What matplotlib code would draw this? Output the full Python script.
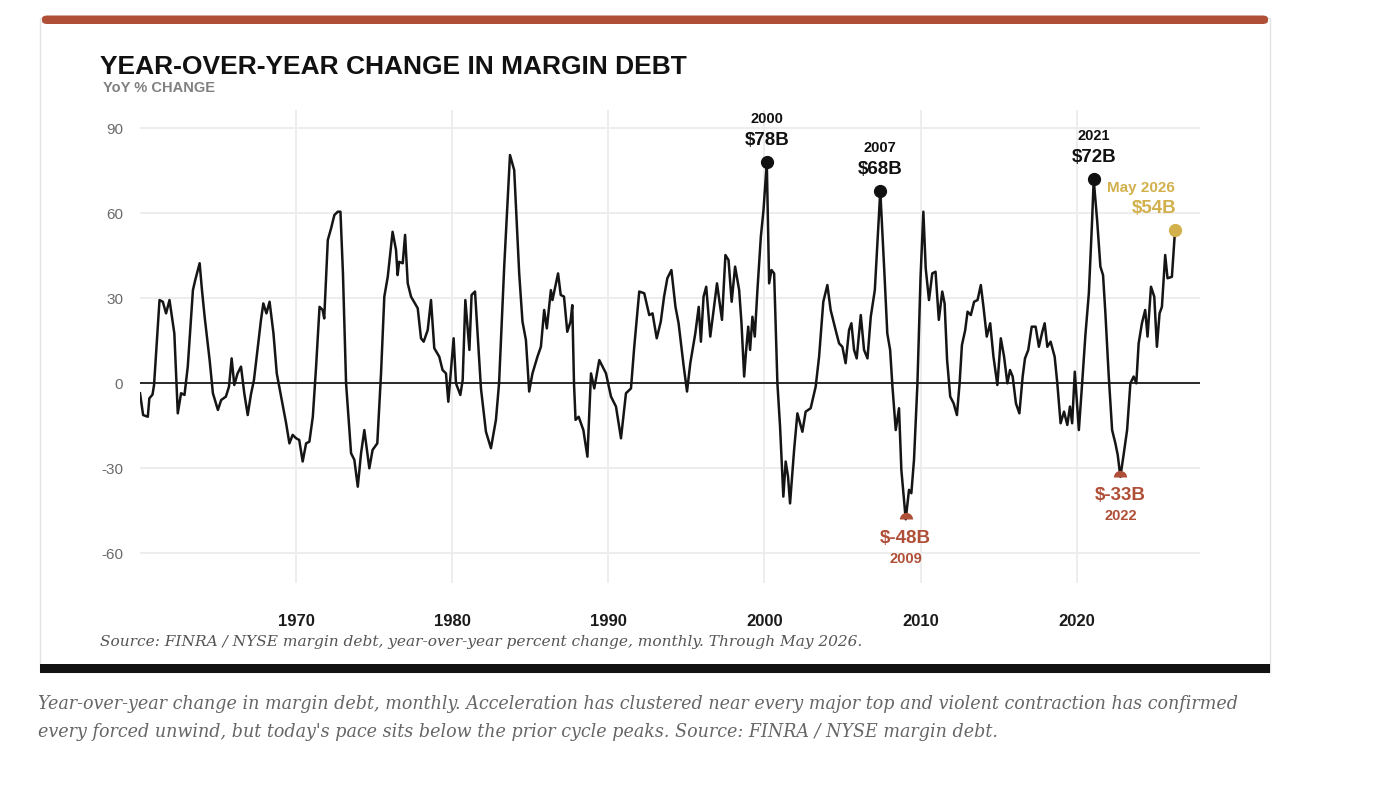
import matplotlib
matplotlib.use("Agg")
import matplotlib.pyplot as plt
from matplotlib.patches import Rectangle, FancyBboxPatch

# ---------------- data ----------------
years = [
    1960.0, 1960.2, 1960.5, 1960.6, 1960.8, 1960.9, 1961.25, 1961.46, 1961.67, 1961.89,
    1962.2, 1962.42, 1962.63, 1962.85, 1963.06, 1963.39, 1963.54, 1963.82, 1963.97, 1964.14,
    1964.46, 1964.67, 1964.99, 1965.2, 1965.5, 1965.7, 1965.87, 1966.04, 1966.25, 1966.47,
    1966.68, 1966.9, 1967.1, 1967.3, 1967.5, 1967.75, 1967.9, 1968.1, 1968.3, 1968.55,
    1968.76, 1969.0, 1969.36, 1969.57, 1969.78, 1970.0, 1970.2, 1970.42, 1970.64, 1970.85,
    1971.07, 1971.28, 1971.5, 1971.7, 1971.8, 1972.03, 1972.24, 1972.45, 1972.67, 1972.84,
    1973.0, 1973.2, 1973.52, 1973.73, 1973.95, 1974.16, 1974.37, 1974.69, 1974.9, 1975.2,
    1975.44, 1975.65, 1975.87, 1976.18, 1976.4, 1976.5, 1976.6, 1976.83, 1976.98, 1977.15,
    1977.36, 1977.79, 1978.0, 1978.17, 1978.43, 1978.64, 1978.85, 1979.17, 1979.38, 1979.6,
    1979.75, 1980.09, 1980.24, 1980.52, 1980.67, 1980.84, 1981.1, 1981.24, 1981.46, 1981.84,
    1982.16, 1982.48, 1982.8, 1983.0, 1983.33, 1983.7, 1983.97, 1984.29, 1984.5, 1984.72,
    1984.93, 1985.14, 1985.46, 1985.68, 1985.89, 1986.06, 1986.32, 1986.42, 1986.78, 1986.95,
    1987.16, 1987.37, 1987.58, 1987.69, 1987.8, 1987.9, 1988.1, 1988.4, 1988.66, 1988.89,
    1989.1, 1989.42, 1989.85, 1990.17, 1990.49, 1990.81, 1991.13, 1991.45, 1991.66, 1991.98,
    1992.3, 1992.62, 1992.83, 1993.1, 1993.36, 1993.57, 1993.78, 1994.04, 1994.3, 1994.5,
    1994.83, 1995.04, 1995.25, 1995.57, 1995.79, 1995.93, 1996.1, 1996.27, 1996.53, 1996.96,
    1997.28, 1997.5, 1997.7, 1997.9, 1998.12, 1998.38, 1998.53, 1998.7, 1998.81, 1998.96,
    1999.08, 1999.23, 1999.38, 1999.55, 1999.77, 1999.94, 2000.15, 2000.3, 2000.45, 2000.62,
    2000.83, 2001.0, 2001.21, 2001.36, 2001.51, 2001.64, 2001.9, 2002.11, 2002.43, 2002.64,
    2002.96, 2003.28, 2003.5, 2003.77, 2004.03, 2004.24, 2004.56, 2004.78, 2004.99, 2005.2,
    2005.42, 2005.57, 2005.74, 2005.91, 2006.17, 2006.38, 2006.6, 2006.81, 2007.07, 2007.42,
    2007.68, 2007.87, 2008.05, 2008.2, 2008.41, 2008.62, 2008.77, 2009.05, 2009.26, 2009.41,
    2009.58, 2009.8, 2010.0, 2010.18, 2010.33, 2010.54, 2010.75, 2010.96, 2011.17, 2011.39,
    2011.54, 2011.7, 2011.9, 2012.12, 2012.33, 2012.5, 2012.65, 2012.86, 2013.01, 2013.22,
    2013.43, 2013.65, 2013.86, 2014.03, 2014.24, 2014.46, 2014.67, 2014.92, 2015.14, 2015.35,
    2015.56, 2015.73, 2015.9, 2016.11, 2016.33, 2016.54, 2016.69, 2016.9, 2017.12, 2017.37,
    2017.58, 2017.8, 2017.95, 2018.12, 2018.33, 2018.59, 2018.76, 2018.97, 2019.19, 2019.4,
    2019.57, 2019.71, 2019.88, 2020.14, 2020.35, 2020.56, 2020.78, 2020.99, 2021.09, 2021.31,
    2021.52, 2021.69, 2021.84, 2022.05, 2022.27, 2022.48, 2022.63, 2022.8, 2023.02, 2023.23,
    2023.44, 2023.65, 2023.82, 2023.97, 2024.18, 2024.39, 2024.54, 2024.76, 2024.97, 2025.14,
    2025.31, 2025.46, 2025.67, 2025.82, 2026.1, 2026.3,
]
yoy_pct = [
    -3.5, -11.2, -11.8, -5.3, -4.0, -0.6, 29.4, 28.8, 24.7, 29.4,
    17.6, -10.6, -3.5, -4.1, 5.9, 32.9, 36.5, 42.4, 32.9, 23.5,
    8.2, -3.5, -9.4, -5.9, -4.7, -1.2, 8.8, -0.6, 3.5, 5.9,
    -3.5, -11.2, -4.1, 1.2, 10.6, 22.4, 28.2, 24.7, 28.8, 17.6,
    3.5, -3.5, -14.1, -21.2, -18.2, -19.4, -20.0, -27.6, -21.2, -20.6,
    -11.8, 5.9, 27.0, 25.9, 22.9, 50.6, 54.7, 59.4, 60.6, 60.6,
    38.8, 0.0, -24.7, -27.0, -36.5, -24.7, -16.5, -30.0, -23.5, -21.2,
    3.5, 30.6, 37.6, 53.5, 47.1, 38.2, 42.9, 42.4, 52.4, 35.3,
    30.6, 26.5, 15.9, 14.7, 18.8, 29.4, 12.4, 9.4, 4.7, 3.5,
    -6.5, 15.9, 0.0, -4.1, 1.2, 29.4, 11.8, 31.2, 32.4, -1.8,
    -17.1, -22.9, -12.9, 0.0, 41.2, 80.6, 75.3, 38.8, 21.8, 15.3,
    -2.9, 3.5, 9.4, 12.9, 25.9, 19.4, 32.9, 29.4, 38.8, 31.2,
    30.6, 18.2, 21.8, 27.6, 0.0, -12.9, -11.8, -16.5, -25.9, 3.5,
    -1.8, 8.2, 3.5, -4.7, -8.2, -19.4, -3.5, -1.8, 12.9, 32.4,
    31.8, 24.1, 24.7, 15.9, 21.8, 30.6, 37.1, 40.0, 27.0, 21.2,
    5.9, -2.9, 7.1, 17.6, 27.0, 14.7, 30.6, 34.1, 16.5, 35.3,
    22.4, 45.3, 43.5, 28.8, 41.2, 32.9, 21.2, 2.4, 10.6, 20.0,
    11.8, 23.5, 16.5, 32.9, 51.8, 61.2, 78.0, 35.3, 40.0, 38.8,
    0.0, -15.3, -40.0, -27.6, -32.9, -42.4, -23.5, -10.6, -17.1, -10.0,
    -8.8, -1.2, 9.4, 28.8, 34.7, 25.9, 18.8, 14.1, 12.9, 7.1,
    18.8, 21.2, 11.8, 8.8, 24.1, 11.8, 8.8, 23.5, 32.9, 68.0,
    39.4, 17.6, 11.8, -1.2, -16.5, -8.8, -30.6, -48.0, -37.6, -38.8,
    -27.0, 0.0, 37.6, 60.6, 40.6, 29.4, 38.8, 39.4, 22.4, 32.4,
    28.2, 8.2, -4.7, -7.1, -11.2, 0.0, 13.5, 18.8, 25.3, 24.1,
    28.8, 29.4, 34.7, 27.0, 16.5, 21.2, 9.4, -0.6, 15.9, 9.4,
    0.0, 4.7, 2.4, -7.1, -10.6, 2.4, 8.8, 11.8, 20.0, 20.0,
    12.9, 18.2, 21.2, 12.9, 14.7, 9.4, 0.0, -14.1, -10.0, -14.7,
    -8.2, -14.1, 4.1, -16.5, 0.0, 17.1, 31.8, 57.6, 72.0, 57.6,
    41.2, 38.2, 24.7, 2.9, -16.5, -21.2, -25.3, -33.0, -24.7, -16.5,
    0.0, 2.4, 0.0, 14.1, 21.2, 25.9, 16.5, 34.1, 30.6, 12.9,
    24.7, 27.0, 45.3, 37.1, 37.6, 54.0,
]

y_ticks = [90, 60, 30, 0, -30, -60]
x_ticks = [1970, 1980, 1990, 2000, 2010, 2020]

peak_years = [2000.15, 2007.42, 2021.09]
peak_values = [78, 68, 72]
peak_labels = ["$78B", "$68B", "$72B"]
peak_years_txt = ["2000", "2007", "2021"]

trough_years = [2009.05, 2022.8]
trough_values = [-48, -33]
trough_labels = ["$-48B", "$-33B"]
trough_years_txt = ["2009", "2022"]

latest_year = 2026.3
latest_value = 54
latest_label = "$54B"
latest_date = "May 2026"

title = "YEAR-OVER-YEAR CHANGE IN MARGIN DEBT"
subtitle = "YoY % CHANGE"
source = "Source: FINRA / NYSE margin debt, year-over-year percent change, monthly. Through May 2026."
caption1 = ("Year-over-year change in margin debt, monthly. Acceleration has clustered near every "
            "major top and violent contraction has confirmed")
caption2 = ("every forced unwind, but today's pace sits below the prior cycle peaks. "
            "Source: FINRA / NYSE margin debt.")

# ---------------- styling ----------------
W, H = 1380, 806
RED = "#b04f38"
GOLD = "#d2b04c"
SANS = ["Liberation Sans", "DejaVu Sans"]
SERIF = ["DejaVu Serif"]

VAL_FS = 13.5
YR_FS = 10.5

fig = plt.figure(figsize=(W / 100, H / 100), dpi=100)
fig.patch.set_facecolor("white")


def fx(x):
    return x / W


def fy(y):
    return 1 - y / H


# card
card = Rectangle((fx(40), fy(672)), fx(1270) - fx(40), fy(18) - fy(672),
                 transform=fig.transFigure, facecolor="white",
                 edgecolor="#e2e2e2", lw=1.0, zorder=-2)
fig.patches.append(card)
topbar = FancyBboxPatch((fx(42), fy(24)), fx(1268) - fx(42), fy(15.5) - fy(24),
                        boxstyle="round,pad=0,rounding_size=0.004",
                        transform=fig.transFigure, facecolor=RED,
                        edgecolor="none", zorder=-1)
fig.patches.append(topbar)
botbar = Rectangle((fx(40), fy(673)), fx(1270) - fx(40), fy(664) - fy(673),
                   transform=fig.transFigure, facecolor="#121212",
                   edgecolor="none", zorder=-1)
fig.patches.append(botbar)

# axes
ax = fig.add_axes([fx(140), fy(583), fx(1200) - fx(140), fy(110) - fy(583)])
ax.set_zorder(5)
ax.set_facecolor("none")
ax.set_xlim(1960.0, 2027.9)
ax.set_ylim(-70.5, 96.5)
for s in ax.spines.values():
    s.set_visible(False)
ax.set_yticks(y_ticks)
ax.set_yticklabels([str(v) for v in y_ticks])
ax.set_xticks(x_ticks)
ax.set_xticklabels([str(v) for v in x_ticks])
ax.tick_params(axis="both", length=0)
ax.tick_params(axis="y", pad=12, labelsize=11, labelcolor="#6a6a6a")
ax.tick_params(axis="x", pad=22, labelsize=12, labelcolor="#1a1a1a")
for lab in ax.get_xticklabels():
    lab.set_fontweight("bold")
    lab.set_family(SANS)
for lab in ax.get_yticklabels():
    lab.set_family(SANS)
ax.grid(True, color="#ececec", lw=1.3)
ax.set_axisbelow(True)
ax.axhline(0, color="#1a1a1a", lw=1.3, zorder=2)

ax.plot(years, yoy_pct, color="#151515", lw=1.8, zorder=3,
        solid_joinstyle="round")

# peak markers and labels
ax.plot(peak_years, peak_values, "o", color="#111111", ms=8.5, zorder=4)
for x, v, lab, yr in zip(peak_years, peak_values, peak_labels, peak_years_txt):
    ax.annotate(lab, (x, v), xytext=(0, 15.5), textcoords="offset points",
                ha="center", va="center", fontsize=VAL_FS, fontweight="bold",
                color="#111111", family=SANS, zorder=5)
    ax.annotate(yr, (x, v), xytext=(0, 31), textcoords="offset points",
                ha="center", va="center", fontsize=YR_FS, fontweight="bold",
                color="#111111", family=SANS, zorder=5)

# trough markers and labels
ax.plot(trough_years, trough_values, "o", color=RED, ms=9.5, fillstyle="top",
        markerfacecoloralt="none", markeredgewidth=0, zorder=4)
for x, v, lab, yr in zip(trough_years, trough_values, trough_labels, trough_years_txt):
    ax.annotate(lab, (x, v), xytext=(0, -13.5), textcoords="offset points",
                ha="center", va="center", fontsize=VAL_FS, fontweight="bold",
                color=RED, family=SANS, zorder=5)
    ax.annotate(yr, (x, v), xytext=(0, -28.5), textcoords="offset points",
                ha="center", va="center", fontsize=YR_FS, fontweight="bold",
                color=RED, family=SANS, zorder=5)

# latest value
ax.plot([latest_year], [latest_value], "o", color=GOLD, ms=8.5, zorder=4)
ax.annotate(latest_label, (latest_year, latest_value), xytext=(1, 16),
            textcoords="offset points", ha="right", va="center",
            fontsize=VAL_FS, fontweight="bold", color=GOLD, family=SANS, zorder=5)
ax.annotate(latest_date, (latest_year, latest_value), xytext=(0, 30.5),
            textcoords="offset points", ha="right", va="center",
            fontsize=11, fontweight="bold", color=GOLD, family=SANS, zorder=5)

# titles
fig.text(fx(100), fy(74), title, ha="left", va="baseline", fontsize=19,
         fontweight="bold", color="#111111", family=SANS)
fig.text(fx(103), fy(92.5), subtitle, ha="left", va="baseline", fontsize=10.5,
         fontweight="bold", color="#808080", family=SANS)

# source and caption, fitted to the reference widths
renderer = fig.canvas.get_renderer()


def fit(txt, target_px):
    bb = txt.get_window_extent(renderer=renderer)
    txt.set_fontsize(txt.get_fontsize() * target_px / bb.width)


t_src = fig.text(fx(100), fy(646), source, ha="left", va="baseline",
                 fontsize=11, style="italic", color="#555555", family=SERIF)
fit(t_src, 765)
t_c1 = fig.text(fx(38), fy(709), caption1, ha="left", va="baseline",
                fontsize=13, style="italic", color="#666666", family=SERIF)
fit(t_c1, 1200)
t_c2 = fig.text(fx(38), fy(737), caption2, ha="left", va="baseline",
                fontsize=13, style="italic", color="#666666", family=SERIF)
t_c2.set_fontsize(t_c1.get_fontsize())

fig.savefig("out.png", dpi=100, facecolor="white")
